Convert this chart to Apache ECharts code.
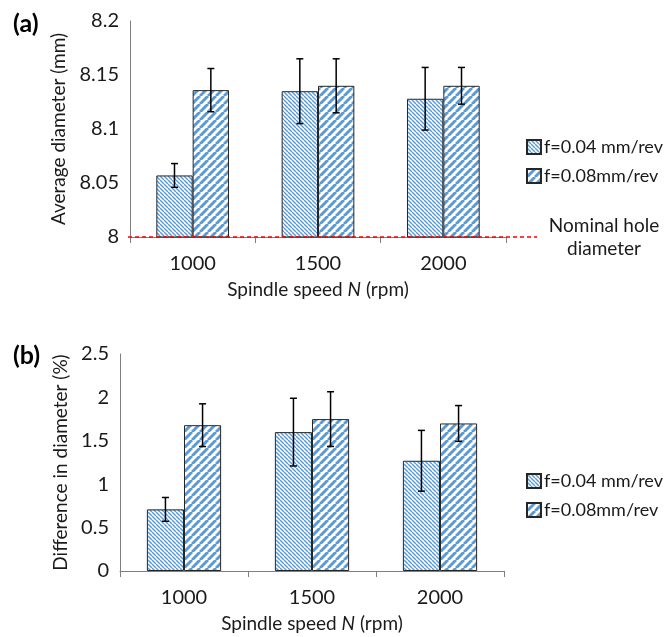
<!DOCTYPE html>
<html>
<head>
<meta charset="utf-8">
<script src="https://cdn.jsdelivr.net/npm/echarts@6/dist/echarts.min.js"></script>
<style>html,body{margin:0;padding:0;background:#fff}#c{width:668px;height:637px}</style>
</head>
<body>
<div id="c"></div>
<script>
// ---- data ----
const categories = ['1000', '1500', '2000'];
const seriesNames = ['f=0.04 mm/rev', 'f=0.08mm/rev'];
// (a) Average diameter (mm)
const avgDia004 = [8.057, 8.135, 8.128];
const avgDia008 = [8.136, 8.140, 8.140];
const avgDiaErr004 = [0.011, 0.030, 0.029];
const avgDiaErr008 = [0.020, 0.025, 0.017];
const nominalDiameter = 8;
// (b) Difference in diameter (%)
const diff004 = [0.71, 1.60, 1.27];
const diff008 = [1.68, 1.75, 1.70];
const diffErr004 = [0.137, 0.39, 0.35];
const diffErr008 = [0.246, 0.315, 0.206];

const FONT = 'Lato';
const TXT = '#1a1a1a';
const BLUE = '#5b9bd5';

function hatch(dir, p, lw) {
  const c = document.createElement('canvas');
  c.width = p; c.height = p;
  const g = c.getContext('2d');
  g.fillStyle = '#fff'; g.fillRect(0, 0, p, p);
  g.strokeStyle = BLUE; g.lineWidth = lw;
  for (let k = -p; k <= p; k += p) {
    g.beginPath();
    if (dir === '\\') { g.moveTo(k, 0); g.lineTo(k + p, p); }
    else { g.moveTo(k, p); g.lineTo(k + p, 0); }
    g.stroke();
  }
  return { image: c, repeat: 'repeat' };
}
const pat1 = hatch('\\', 4, 1.4);
const pat2 = hatch('/', 8, 3);

const BAR_W = 0.29;

function errData(vals, errs, s) {
  return vals.map((v, i) => [i, v - errs[i], v + errs[i], s]);
}

function errRender(params, api) {
  const cat = api.value(0), lo = api.value(1), hi = api.value(2), s = api.value(3);
  const bw = api.size([1, 0])[0] * BAR_W;
  const pHi = api.coord([cat, hi]);
  const pLo = api.coord([cat, lo]);
  const x = pHi[0] + (s === 0 ? -bw / 2 : bw / 2);
  const cap = 3.5;
  const st = { stroke: '#000', lineWidth: 1.5 };
  return {
    type: 'group',
    children: [
      { type: 'line', shape: { x1: x, y1: pHi[1], x2: x, y2: pLo[1] }, style: st },
      { type: 'line', shape: { x1: x - cap, y1: pHi[1], x2: x + cap, y2: pHi[1] }, style: st },
      { type: 'line', shape: { x1: x - cap, y1: pLo[1], x2: x + cap, y2: pLo[1] }, style: st }
    ]
  };
}

function xAxis(gi) {
  return {
    type: 'category', gridIndex: gi, data: categories,
    axisLine: { lineStyle: { color: '#7f7f7f', width: 1 } },
    axisTick: { show: true, length: 6, lineStyle: { color: '#7f7f7f' } },
    axisLabel: { color: TXT, fontFamily: FONT, fontSize: 20, margin: 17 },
    name: '{n|Spindle speed }{i|N}{n| (rpm)}',
    nameLocation: 'middle', nameGap: 43,
    nameTextStyle: {
      rich: {
        n: { fontFamily: FONT, fontSize: 19, color: TXT },
        i: { fontFamily: FONT, fontSize: 19, color: TXT, fontStyle: 'italic' }
      }
    }
  };
}

function yAxis(gi, min, max, interval, name, gap) {
  return {
    type: 'value', gridIndex: gi, min: min, max: max, interval: interval,
    splitLine: { show: false },
    axisLine: { show: true, lineStyle: { color: '#7f7f7f' } },
    axisTick: { show: false },
    axisLabel: { color: TXT, fontFamily: FONT, fontSize: 20, margin: 11 },
    name: name, nameLocation: 'middle', nameGap: gap,
    nameTextStyle: { color: TXT, fontFamily: FONT, fontSize: 19 }
  };
}

function bars(gi, name, data, pat) {
  return {
    type: 'bar', name: name, xAxisIndex: gi, yAxisIndex: gi, data: data,
    barWidth: (BAR_W * 100) + '%', barGap: '0%',
    itemStyle: { color: pat, borderColor: '#262626', borderWidth: 1 },
    emphasis: { disabled: true }, z: 2
  };
}

function legend(top) {
  return {
    left: 521, top: top, orient: 'vertical', itemGap: 11,
    itemWidth: 14, itemHeight: 14, icon: 'rect',
    data: seriesNames,
    textStyle: { color: TXT, fontFamily: FONT, fontSize: 18, padding: [0, 0, 0, -2] },
    selectedMode: false
  };
}

const option = {
  animation: false,
  backgroundColor: '#fff',
  grid: [
    { left: 130, top: 21, width: 376, height: 216 },
    { left: 120, top: 354, width: 384, height: 217 }
  ],
  xAxis: [xAxis(0), xAxis(1)],
  yAxis: [
    yAxis(0, 8, 8.2, 0.05, 'Average diameter (mm)', 58),
    yAxis(1, 0, 2.5, 0.5, 'Difference in diameter (%)', 48)
  ],
  legend: [legend(133), legend(467)],
  series: [
    bars(0, seriesNames[0], avgDia004, pat1),
    bars(0, seriesNames[1], avgDia008, pat2),
    {
      type: 'custom', xAxisIndex: 0, yAxisIndex: 0, z: 5,
      data: errData(avgDia004, avgDiaErr004, 0).concat(errData(avgDia008, avgDiaErr008, 1)),
      encode: { x: 0, y: [1, 2] }, renderItem: errRender
    },
    {
      type: 'custom', xAxisIndex: 0, yAxisIndex: 0, z: 6, clip: false,
      data: [[0, nominalDiameter]],
      encode: { x: 0, y: 1 },
      renderItem: function (params, api) {
        const cs = params.coordSys;
        const y = api.coord([0, api.value(1)])[1];
        return {
          type: 'line',
          shape: { x1: cs.x - 2, y1: y, x2: cs.x + cs.width + 31, y2: y },
          style: { stroke: '#ff0000', lineWidth: 1.3, lineDash: [4, 3] }
        };
      }
    },
    bars(1, seriesNames[0], diff004, pat1),
    bars(1, seriesNames[1], diff008, pat2),
    {
      type: 'custom', xAxisIndex: 1, yAxisIndex: 1, z: 5,
      data: errData(diff004, diffErr004, 0).concat(errData(diff008, diffErr008, 1)),
      encode: { x: 0, y: [1, 2] }, renderItem: errRender
    }
  ],
  graphic: [
    { type: 'text', left: 13, top: 11, style: { text: '(a)', font: 'bold 25px ' + FONT, fill: '#000' } },
    { type: 'text', left: 13, top: 343, style: { text: '(b)', font: 'bold 25px ' + FONT, fill: '#000' } },
    { type: 'text', x: 604, y: 237, style: { text: 'Nominal hole\ndiameter', font: '19px ' + FONT, fill: TXT, align: 'center', verticalAlign: 'middle', lineHeight: 23 } }
  ]
};

const chart = echarts.init(document.getElementById('c'), null, { renderer: 'canvas' });
chart.setOption(option);
</script>
</body>
</html>
